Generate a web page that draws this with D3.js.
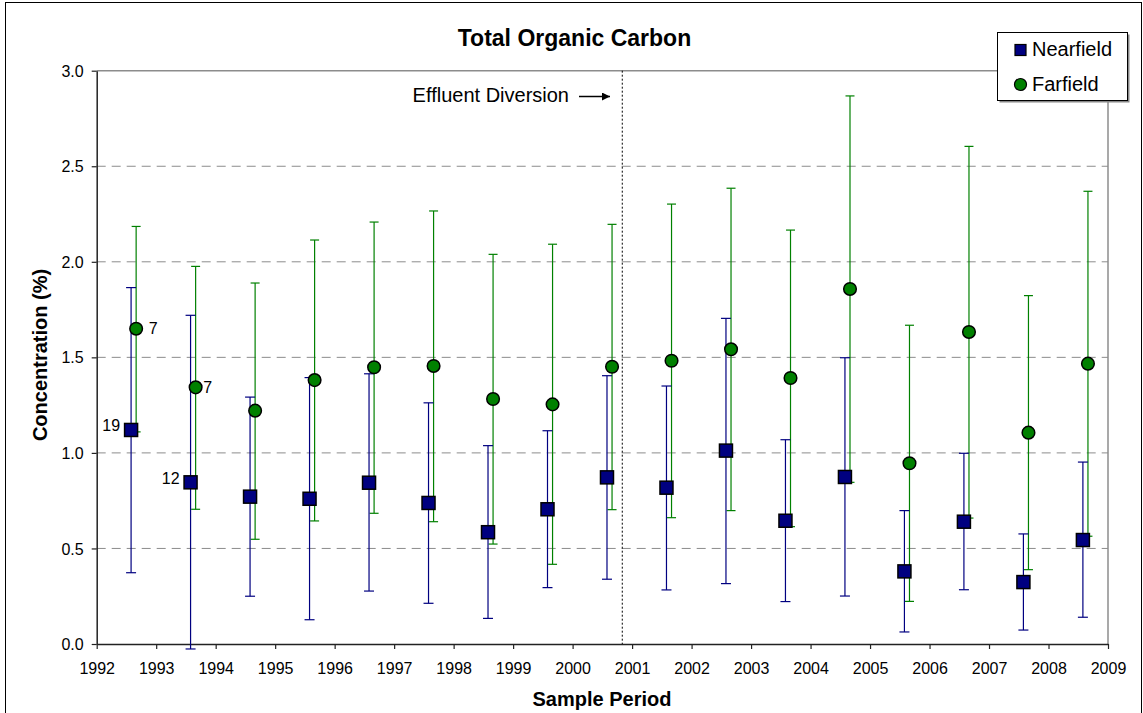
<!DOCTYPE html>
<html>
<head>
<meta charset="utf-8">
<script src="https://cdn.jsdelivr.net/npm/d3@7"></script>
<style>
  html, body { margin: 0; padding: 0; background: #fff; }
  svg { display: block; font-family: Arial, "Liberation Sans", sans-serif; }
</style>
</head>
<body>
<svg id="chart" width="1143" height="713"></svg>
<script>
// ---- data ----
const years = [1992,1993,1994,1995,1996,1997,1998,1999,2000,2001,2002,2003,2004,2005,2006,2007,2008];
const nearMean  = [1.12, 0.846, 0.771, 0.76, 0.844, 0.738, 0.585, 0.705, 0.872, 0.818, 1.012, 0.645, 0.874, 0.38, 0.64, 0.324, 0.544];
const nearUpper = [1.865, 1.72, 1.292, 1.394, 1.414, 1.262, 1.038, 1.116, 1.404, 1.35, 1.704, 1.069, 1.498, 0.698, 0.998, 0.576, 0.952];
const nearLower = [0.373, -0.026, 0.25, 0.127, 0.277, 0.213, 0.134, 0.295, 0.339, 0.283, 0.316, 0.222, 0.251, 0.063, 0.284, 0.073, 0.14];
const farMean   = [1.65, 1.343, 1.221, 1.381, 1.448, 1.455, 1.282, 1.254, 1.451, 1.482, 1.542, 1.392, 1.858, 0.946, 1.633, 1.106, 1.467];
const farUpper  = [2.185, 1.976, 1.889, 2.114, 2.208, 2.266, 2.039, 2.092, 2.196, 2.302, 2.385, 2.166, 2.868, 1.668, 2.604, 1.823, 2.369];
const farLower  = [1.11, 0.705, 0.548, 0.644, 0.684, 0.64, 0.523, 0.417, 0.703, 0.661, 0.698, 0.614, 0.846, 0.223, 0.659, 0.389, 0.564];
const nearCounts = [19, 12, null, null, null, null, null, null, null, null, null, null, null, null, null, null, null];
const farCounts  = [7, 7, null, null, null, null, null, null, null, null, null, null, null, null, null, null, null];
const xTickYears = [1992,1993,1994,1995,1996,1997,1998,1999,2000,2001,2002,2003,2004,2005,2006,2007,2008,2009];
const yTicks = [0, 0.5, 1.0, 1.5, 2.0, 2.5, 3.0];
const diversionYear = 2000.835;
const seriesNames = ["Nearfield", "Farfield"];

// ---- layout ----
const svg = d3.select("#chart");
const NAVY = "#000080", GREEN = "#008000";
const x = d3.scaleLinear().domain([1992, 2009]).range([96.7, 1108]);
const y = d3.scaleLinear().domain([0, 3]).range([644, 70.7]);
const nearOff = 0.578, farOff = 0.663;

// outer border
svg.append("rect").attr("x", 5.5).attr("y", 2.5).attr("width", 1136).attr("height", 740)
  .attr("fill", "none").attr("stroke", "#000").attr("stroke-width", 1);

// gridlines
svg.append("g").selectAll("line").data(yTicks.filter(d => d > 0 && d < 3)).join("line")
  .attr("x1", x(1992)).attr("x2", x(2009))
  .attr("y1", d => y(d)).attr("y2", d => y(d))
  .attr("stroke", "#8c8c8c").attr("stroke-width", 1).attr("stroke-dasharray", "9,6");

// top & right frame lines
svg.append("line").attr("x1", x(1992)).attr("x2", x(2009)).attr("y1", y(3)).attr("y2", y(3))
  .attr("stroke", "#8c8c8c").attr("stroke-width", 1.5);
svg.append("line").attr("x1", x(2009)).attr("x2", x(2009)).attr("y1", y(3)).attr("y2", y(0))
  .attr("stroke", "#8c8c8c").attr("stroke-width", 1.5);

// axes
const xAxis = svg.append("g").attr("transform", `translate(0,${y(0)})`)
  .call(d3.axisBottom(x).tickValues(xTickYears).tickFormat(d3.format("d")).tickSize(5).tickSizeOuter(0));
const yAxis = svg.append("g").attr("transform", `translate(${x(1992)},0)`)
  .call(d3.axisLeft(y).tickValues(yTicks).tickFormat(d3.format(".1f")).tickSize(5).tickSizeOuter(0));
[xAxis, yAxis].forEach(g => {
  g.select(".domain").attr("stroke", "#222").attr("stroke-width", 1.5);
  g.selectAll(".tick line").attr("stroke", "#222").attr("stroke-width", 1.2);
  g.selectAll(".tick text").attr("fill", "#000").style("font-size", "16px")
    .style("font-family", 'Arial, "Liberation Sans", sans-serif');
});
xAxis.selectAll(".tick text").attr("dy", null).attr("y", 30);
yAxis.selectAll(".tick text").attr("x", -13).attr("dy", "0.35em");

// diversion line
svg.append("line").attr("x1", x(diversionYear)).attr("x2", x(diversionYear))
  .attr("y1", y(3)).attr("y2", y(0))
  .attr("stroke", "#000").attr("stroke-width", 1).attr("stroke-dasharray", "2,2");
svg.append("text").attr("x", 569).attr("y", 102).attr("text-anchor", "end")
  .style("font-size", "20px").text("Effluent Diversion");
svg.append("defs").append("marker").attr("id", "arr").attr("viewBox", "0 0 10 10")
  .attr("refX", 10).attr("refY", 5).attr("markerWidth", 10).attr("markerHeight", 8)
  .attr("markerUnits", "userSpaceOnUse").attr("orient", "auto")
  .append("path").attr("d", "M0,0 L10,5 L0,10 Z").attr("fill", "#000");
svg.append("line").attr("x1", 579).attr("x2", 610).attr("y1", 96.5).attr("y2", 96.5)
  .attr("stroke", "#000").attr("stroke-width", 1.5).attr("marker-end", "url(#arr)");

// error bars
function errorBars(xs, lo, hi, color, capW) {
  const g = svg.append("g").attr("stroke", color).attr("stroke-width", 1.2);
  years.forEach((yr, i) => {
    const cx = x(yr + xs);
    g.append("line").attr("x1", cx).attr("x2", cx).attr("y1", y(lo[i])).attr("y2", y(hi[i]));
    g.append("line").attr("x1", cx - capW / 2).attr("x2", cx + capW / 2).attr("y1", y(lo[i])).attr("y2", y(lo[i]));
    g.append("line").attr("x1", cx - capW / 2).attr("x2", cx + capW / 2).attr("y1", y(hi[i])).attr("y2", y(hi[i]));
  });
}
errorBars(farOff, farLower, farUpper, GREEN, 9);
errorBars(nearOff, nearLower, nearUpper, NAVY, 10);

// markers
svg.append("g").selectAll("rect").data(years).join("rect")
  .attr("x", (d, i) => x(d + nearOff) - 6.5).attr("y", (d, i) => y(nearMean[i]) - 6.5)
  .attr("width", 13).attr("height", 13)
  .attr("fill", NAVY).attr("stroke", "#000").attr("stroke-width", 1.5);
svg.append("g").selectAll("circle").data(years).join("circle")
  .attr("cx", d => x(d + farOff)).attr("cy", (d, i) => y(farMean[i])).attr("r", 6.3)
  .attr("fill", GREEN).attr("stroke", "#000").attr("stroke-width", 1.5);

// count labels
years.forEach((yr, i) => {
  if (nearCounts[i] != null) {
    svg.append("text").attr("x", x(yr + nearOff) - 11).attr("y", y(nearMean[i]) + 1.5)
      .attr("text-anchor", "end").style("font-size", "16px").text(nearCounts[i]);
  }
  if (farCounts[i] != null) {
    svg.append("text").attr("x", x(yr + farOff) + (i === 0 ? 12.5 : 7.5)).attr("y", y(farMean[i]) + 5.5)
      .style("font-size", "16px").text(farCounts[i]);
  }
});

// titles
svg.append("text").attr("x", 574.5).attr("y", 46).attr("text-anchor", "middle")
  .style("font-size", "23px").style("font-weight", "bold").text("Total Organic Carbon");
svg.append("text").attr("x", 602).attr("y", 706).attr("text-anchor", "middle")
  .style("font-size", "20px").style("font-weight", "bold").text("Sample Period");
svg.append("text").attr("transform", "translate(47,355) rotate(-90)").attr("text-anchor", "middle")
  .style("font-size", "20px").style("font-weight", "bold").text("Concentration (%)");

// legend
const lg = svg.append("g");
lg.append("rect").attr("x", 999.5).attr("y", 34.5).attr("width", 130).attr("height", 68).attr("fill", "#888");
lg.append("rect").attr("x", 997.5).attr("y", 32.5).attr("width", 130).attr("height", 68)
  .attr("fill", "#fff").attr("stroke", "#000").attr("stroke-width", 1);
lg.append("rect").attr("x", 1015).attr("y", 44.5).attr("width", 11).attr("height", 11)
  .attr("fill", NAVY).attr("stroke", "#000").attr("stroke-width", 1.2);
lg.append("circle").attr("cx", 1020.5).attr("cy", 84.5).attr("r", 6)
  .attr("fill", GREEN).attr("stroke", "#000").attr("stroke-width", 1.2);
lg.append("text").attr("x", 1032).attr("y", 56).style("font-size", "20px").text(seriesNames[0]);
lg.append("text").attr("x", 1032).attr("y", 91).style("font-size", "20px").text(seriesNames[1]);
</script>
</body>
</html>
